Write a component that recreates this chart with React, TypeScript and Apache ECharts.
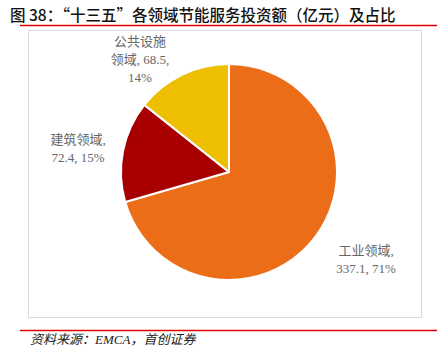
import React, { useEffect, useRef } from "react";
import * as echarts from "echarts";

const categories = ["工业领域", "建筑领域", "公共设施领域"];
const values = [337.1, 72.4, 68.5];
const colors = ["#EC6D17", "#A80000", "#EDBF00"];
// label centre offsets from pie centre (px)
const labelOffsets = [
  [137, 87],
  [-151, -24],
  [-89, -113],
];

const TITLE = "图 38：“十三五”各领域节能服务投资额（亿元）及占比";
const SOURCE = "资料来源：EMCA，首创证券";

export default function App() {
  const ref = useRef<HTMLDivElement>(null);
  useEffect(() => {
    if (!ref.current) return;
    const chart = echarts.init(ref.current, null, { renderer: "svg" });
    const total = values.reduce((a, b) => a + b, 0);
    const cx = 229;
    const cy = 172;
    chart.setOption({
      animation: false,
      backgroundColor: "#ffffff",
      graphic: [
        {
          type: "text",
          left: 10,
          top: 6,
          style: {
            text: TITLE,
            fontSize: 15.5,
            fontWeight: 500,
            fill: "#111",
            fontFamily: "'Noto Sans CJK SC', sans-serif",
          },
        },
        {
          type: "line",
          shape: { x1: 20, y1: 25.5, x2: 437, y2: 25.5 },
          style: { stroke: "#E00000", lineWidth: 1.5 },
        },
        {
          type: "rect",
          shape: { x: 28.5, y: 30.5, width: 393, height: 287 },
          style: { fill: "none", stroke: "#D9D9D9", lineWidth: 1 },
        },
        {
          type: "line",
          shape: { x1: 20, y1: 330.5, x2: 437, y2: 330.5 },
          style: { stroke: "#E00000", lineWidth: 1.5 },
        },
        {
          type: "text",
          left: 30,
          top: 333,
          style: {
            text: SOURCE,
            fontSize: 13,
            fontStyle: "italic",
            fill: "#222",
            fontFamily: "'Liberation Serif', 'Noto Sans CJK SC', serif",
          },
        },
      ],
      series: [
        {
          type: "pie",
          center: [cx, cy],
          radius: [0, 108],
          startAngle: 90,
          clockwise: true,
          itemStyle: { borderColor: "#ffffff", borderWidth: 2 },
          labelLine: { show: false },
          label: {
            show: true,
            position: "outside",
            color: "#666",
            fontSize: 13,
            lineHeight: 18,
            width: 100,
            fontFamily: "'Liberation Serif', 'Noto Sans CJK SC', serif",
            rich: {
              c: {
                align: "center",
                color: "#666",
                fontSize: 13,
                lineHeight: 18,
                fontFamily: "'Liberation Serif', 'Noto Sans CJK SC', serif",
              },
            },
            formatter: (p: any) => {
              const pct = Math.round((p.value / total) * 100) + "%";
              const n: string = p.name;
              let lines: string[];
              if (n.length > 4) {
                lines = [n.slice(0, 4), n.slice(4) + ", " + p.value + ",", pct];
              } else {
                lines = [n + ",", p.value + ", " + pct];
              }
              return lines.map((l) => "{c|" + l + "}").join("\n");
            },
          },
          labelLayout: (params: any) => {
            const o = labelOffsets[params.dataIndex];
            return {
              x: cx + o[0],
              y: cy + o[1],
              align: "center",
              verticalAlign: "middle",
            };
          },
          data: categories.map((name, i) => ({
            name,
            value: values[i],
            itemStyle: { color: colors[i] },
          })),
        },
      ],
    });
    return () => chart.dispose();
  }, []);
  return (
    <div
      ref={ref}
      style={{ position: "fixed", left: 0, top: 0, width: 437, height: 352 }}
    />
  );
}
